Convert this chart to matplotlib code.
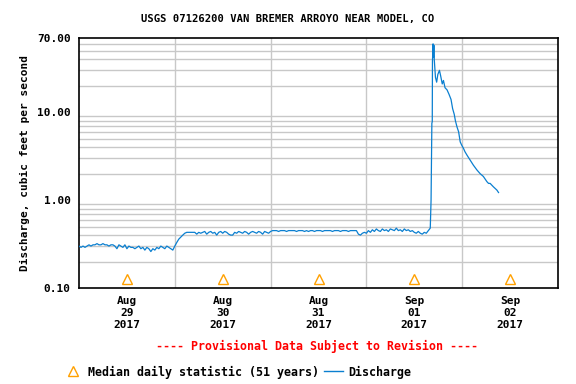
import numpy as np
import matplotlib
matplotlib.use("Agg")
import matplotlib.pyplot as plt
from matplotlib.ticker import FixedLocator, NullFormatter

# half-hourly discharge, cfs
aug29 = [0.30, 0.29, 0.30, 0.29, 0.30, 0.31, 0.30, 0.31, 0.31, 0.32, 0.31, 0.31,
         0.32, 0.31, 0.31, 0.30, 0.31, 0.31, 0.30, 0.28, 0.31, 0.30, 0.29, 0.31,
         0.28, 0.30, 0.29, 0.29, 0.28, 0.29, 0.30, 0.28, 0.29, 0.27, 0.29, 0.28,
         0.26, 0.28, 0.27, 0.29, 0.28, 0.30, 0.29, 0.28, 0.30, 0.29, 0.28, 0.27]
aug30 = [0.30, 0.33, 0.36, 0.38, 0.40, 0.42, 0.43, 0.43, 0.43, 0.43, 0.43, 0.41,
         0.43, 0.42, 0.43, 0.44, 0.41, 0.43, 0.44, 0.42, 0.43, 0.40, 0.43, 0.44,
         0.42, 0.44, 0.43, 0.41, 0.40, 0.40, 0.43, 0.42, 0.44, 0.43, 0.42, 0.44,
         0.43, 0.41, 0.43, 0.44, 0.43, 0.42, 0.44, 0.43, 0.41, 0.44, 0.43, 0.42]
aug31 = [0.44, 0.45, 0.45, 0.45, 0.44, 0.45, 0.45, 0.45, 0.44, 0.45, 0.45, 0.45,
         0.45, 0.44, 0.45, 0.45, 0.45, 0.44, 0.45, 0.44, 0.45, 0.45, 0.44, 0.45,
         0.45, 0.45, 0.44, 0.45, 0.45, 0.45, 0.45, 0.44, 0.45, 0.45, 0.45, 0.44,
         0.45, 0.45, 0.45, 0.44, 0.45, 0.45, 0.45, 0.45, 0.41, 0.40, 0.42, 0.43]
sep01 = [0.42, 0.45, 0.43, 0.46, 0.44, 0.47, 0.45, 0.44, 0.47, 0.45, 0.46, 0.44,
         0.47, 0.46, 0.45, 0.48, 0.45, 0.46, 0.44, 0.47, 0.45, 0.46, 0.44, 0.45,
         0.43, 0.42, 0.44, 0.42, 0.41, 0.43, 0.42, 0.45]

# storm event, hours since Aug 29 00:00
event_hours = [88.0, 88.2, 88.4, 88.5, 88.55, 88.7, 88.8, 88.9, 89.0, 89.3, 89.6,
               89.9, 90.3, 90.6, 91.0, 91.3, 91.7, 92.2, 92.7, 93.2, 93.6, 94.0,
               94.3, 94.7, 95.1, 95.5, 95.9, 96.3, 96.7, 97.2, 98.0, 98.8, 99.7,
               100.5, 101.3, 102.2, 102.6, 103.0, 103.8, 104.7, 105.1]
event_q = [0.48, 1.0, 7.5, 7.8, 38, 60, 42, 58, 40, 25, 22,
           27, 30, 26, 21, 23, 19, 18, 16, 14, 11, 9.5,
           8.0, 6.8, 6.0, 4.6, 4.2, 3.9, 3.55, 3.25, 2.85, 2.5, 2.2,
           2.0, 1.86, 1.62, 1.55, 1.55, 1.42, 1.30, 1.22]

median_hours = [12, 36, 60, 84, 108]
median_q = [0.125, 0.125, 0.125, 0.125, 0.125]

day_labels = ["Aug\n29\n2017", "Aug\n30\n2017", "Aug\n31\n2017",
              "Sep\n01\n2017", "Sep\n02\n2017"]

base = aug29 + aug30 + aug31 + sep01
hours = list(np.arange(len(base)) * 0.5) + event_hours
flow = base + event_q

font = "DejaVu Sans Mono"
blue = "#0a7fd0"
orange = "#ffa000"

fig = plt.figure(figsize=(5.76, 3.84), dpi=100)
ax = fig.add_axes([79 / 576, 96 / 384, 479 / 576, 250 / 384])

ax.plot(hours, flow, color=blue, lw=0.9, zorder=3)
ax.plot(median_hours, median_q, ls="none", marker="^", ms=7.5,
        mfc="none", mec=orange, mew=1.0, zorder=3, clip_on=False)

ax.set_yscale("log")
ax.set_ylim(0.1, 70)
ax.set_xlim(0, 120)

ax.yaxis.set_major_locator(FixedLocator([0.1, 1, 10, 70]))
ax.set_yticklabels(["0.10", "1.00", "10.00", "70.00"])
ygrid = [0.2, 0.3, 0.4, 0.5, 0.6, 0.7, 0.8, 0.9, 1,
         2, 3, 4, 5, 6, 7, 8, 9, 10, 20, 30, 40, 50, 60]
ax.yaxis.set_minor_locator(FixedLocator(ygrid))
ax.yaxis.set_minor_formatter(NullFormatter())

ax.xaxis.set_major_locator(FixedLocator(median_hours))
ax.set_xticklabels(day_labels)
ax.xaxis.set_minor_locator(FixedLocator([24, 48, 72, 96]))

ax.grid(which="minor", color="#c8c8c8", lw=1.0, zorder=0)
ax.tick_params(which="both", length=0)
ax.tick_params(axis="x", pad=6)
ax.tick_params(axis="y", pad=6)
for lab in ax.get_xticklabels() + ax.get_yticklabels():
    lab.set_fontfamily(font)
    lab.set_fontweight("bold")
    lab.set_fontsize(8)
for lab in ax.get_xticklabels():
    lab.set_linespacing(1.25)

for s in ax.spines.values():
    s.set_linewidth(1.2)
    s.set_color("black")

ax.set_ylabel("Discharge, cubic feet per second", fontfamily=font,
              fontweight="bold", fontsize=8, labelpad=5)
fig.text(288 / 576, 1 - 19 / 384, "USGS 07126200 VAN BREMER ARROYO NEAR MODEL, CO",
         ha="center", va="center", fontfamily=font, fontweight="bold", fontsize=7.6)
fig.text(317 / 576, 1 - 346 / 384, "---- Provisional Data Subject to Revision ----",
         ha="center", va="center", color="red", fontfamily=font,
         fontweight="bold", fontsize=8.4)

h_med = plt.Line2D([], [], ls="none", marker="^", ms=7.5, mfc="none",
                   mec=orange, mew=1.0)
h_q = plt.Line2D([], [], color=blue, lw=1.0)
fig.legend([h_med, h_q], ["Median daily statistic (51 years)", "Discharge"],
           loc="center left", bbox_to_anchor=(59 / 576, 1 - 372 / 384),
           ncol=2, frameon=False, handlelength=1.6, handletextpad=0.5,
           columnspacing=0.4, borderaxespad=0,
           prop={"family": font, "weight": "bold", "size": 8.4})

fig.savefig("out.png", dpi=100)
